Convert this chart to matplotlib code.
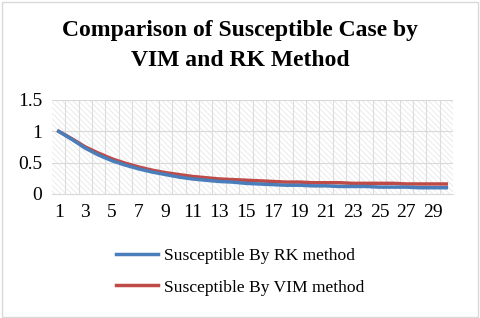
import matplotlib
matplotlib.use('Agg')
import matplotlib.pyplot as plt
from matplotlib.patches import Rectangle

days = list(range(1, 31))
rk = [1.00, 0.87, 0.73, 0.62, 0.53, 0.46, 0.40, 0.35, 0.31, 0.27,
      0.24, 0.22, 0.20, 0.19, 0.17, 0.16, 0.15, 0.14, 0.14, 0.13,
      0.13, 0.12, 0.12, 0.12, 0.11, 0.11, 0.11, 0.10, 0.10, 0.10]
vim = [1.00, 0.88, 0.75, 0.65, 0.56, 0.49, 0.43, 0.38, 0.34, 0.31,
       0.28, 0.26, 0.24, 0.23, 0.22, 0.21, 0.20, 0.19, 0.19, 0.18,
       0.18, 0.18, 0.17, 0.17, 0.17, 0.17, 0.16, 0.16, 0.16, 0.16]
yticks = [0, 0.5, 1, 1.5]

plt.rcParams['font.family'] = ['Liberation Serif', 'DejaVu Serif']
plt.rcParams['hatch.color'] = '#e4e4e4'
plt.rcParams['hatch.linewidth'] = 0.5

fig = plt.figure(figsize=(4.8, 3.18), dpi=100)
# outer border of the chart
fig.patches.append(Rectangle((0.004, 0.004), 0.992, 0.99, transform=fig.transFigure,
                             fill=False, edgecolor='#d9d9d9', linewidth=1))
ax = fig.add_axes([52 / 480, 1 - 194 / 318, 401 / 480, 94 / 318])

# hatched plot area
ax.add_patch(Rectangle((0, 0), 1, 1, transform=ax.transAxes, facecolor='white',
                       hatch='\\\\\\\\\\\\', edgecolor='#e4e4e4', linewidth=0, zorder=0))
# category boundaries and value gridlines
for d in days:
    ax.axvline(d + 0.5, color='#dcdcdc', linewidth=0.8, zorder=1)
for y in yticks[1:]:
    ax.axhline(y, color='#d9d9d9', linewidth=0.8, zorder=1)

ax.plot(days, rk, color='#4a7ebb', linewidth=2.5, zorder=3, label='Susceptible By RK method')
ax.plot(days, vim, color='#be4b48', linewidth=2.5, zorder=2, label='Susceptible By VIM method')

ax.set_xlim(0.5, 30.5)
ax.set_ylim(0, 1.5)
ax.set_yticks(yticks)
ax.set_yticklabels(['0', '0.5', '1', '1.5'])
ax.set_xticks(days[::2])
ax.tick_params(axis='both', length=0, labelsize=14, pad=7)
for s in ax.spines.values():
    s.set_visible(False)
ax.spines['bottom'].set_visible(True)
ax.spines['bottom'].set_color('#d9d9d9')

fig.text(0.5, 0.905, 'Comparison of Susceptible Case by', ha='center', va='center',
         fontsize=17, fontweight='bold')
fig.text(0.5, 0.81, 'VIM and RK Method', ha='center', va='center',
         fontsize=17, fontweight='bold')

handles, labels = ax.get_legend_handles_labels()
fig.legend(handles, labels, loc='center', bbox_to_anchor=(0.5, 0.145), frameon=False,
           fontsize=12.6, handlelength=2.4, handletextpad=0.35, labelspacing=0.85)

fig.savefig('out.png', dpi=100)
